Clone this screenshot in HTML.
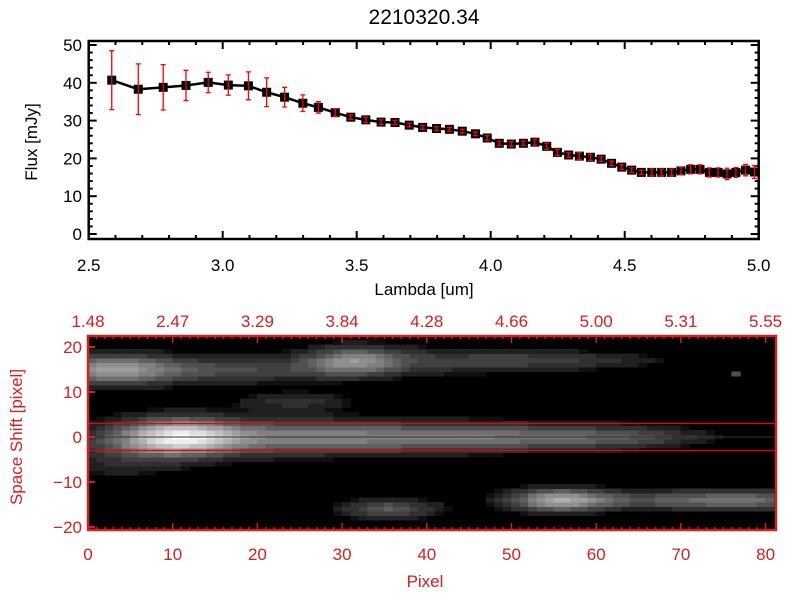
<!DOCTYPE html>
<html><head><meta charset="utf-8"><style>
body{margin:0;background:#fff}
svg{display:block;font-family:"Liberation Sans",sans-serif}
</style></head><body>
<svg id="s" width="800" height="600" xmlns="http://www.w3.org/2000/svg">
<rect width="800" height="600" fill="#fff"/>
<text x="424" y="24" font-size="21" text-anchor="middle">2210320.34</text>
<g id="topG"></g>
<g id="botG"></g>
<text x="424" y="295" font-size="17" text-anchor="middle">Lambda [um]</text>
<text transform="translate(37,142) rotate(-90)" font-size="17" text-anchor="middle">Flux [mJy]</text>
<text x="425" y="587" font-size="17" fill="#d42020" text-anchor="middle">Pixel</text>
<text transform="translate(22,437) rotate(-90)" font-size="17" fill="#d42020" text-anchor="middle">Space Shift [pixel]</text>
</svg>
<script>
const lambda=[2.586,2.685,2.778,2.863,2.946,3.021,3.096,3.164,3.231,3.299,3.357,3.420,3.478,3.534,3.591,3.643,3.696,3.746,3.798,3.846,3.894,3.943,3.987,4.032,4.077,4.122,4.165,4.209,4.249,4.291,4.331,4.372,4.412,4.451,4.489,4.526,4.562,4.601,4.638,4.675,4.710,4.746,4.781,4.816,4.848,4.882,4.915,4.951,4.984];
const flux=[40.7,38.3,38.8,39.3,40.1,39.4,39.2,37.5,36.2,34.6,33.5,32.1,30.9,30.2,29.6,29.5,28.8,28.2,27.9,27.7,27.2,26.5,25.4,24.0,23.8,24.0,24.3,23.2,21.6,20.9,20.6,20.3,19.8,18.7,17.7,16.9,16.3,16.3,16.3,16.3,16.7,17.1,17.1,16.3,16.3,15.9,16.3,16.9,16.4];
const fluxErr=[7.8,6.7,6.0,4.0,2.7,2.7,3.7,3.8,2.6,2.2,1.5,1.0,0.6,0.7,0.6,0.6,0.5,0.5,0.5,0.5,0.5,0.5,0.6,0.6,0.6,0.6,0.8,0.8,0.8,0.6,0.9,0.8,0.6,0.6,0.6,0.6,0.6,0.9,0.9,0.9,1.0,1.2,1.2,1.2,1.2,1.5,1.3,1.5,1.7];
const xTicks=[2.5,3.0,3.5,4.0,4.5,5.0];
const xTickLabels=["2.5","3.0","3.5","4.0","4.5","5.0"];
const yTicks=[0,10,20,30,40,50];
const topLabels=["1.48","2.47","3.29","3.84","4.28","4.66","5.00","5.31","5.55"];
const pixTicks=[0,10,20,30,40,50,60,70,80];
const shiftTicks=[20,10,0,-10,-20];
// image features: pixel, row, amplitude, sigmaPixel, sigmaRow
const blobPix=[10,22,38,52,64,2,14,31,45,58,24,35,55,68,78,76,3];
const blobRow=[0,0,0,0,0,15,15,17,17,17,8,-16,-14,-14,-14,14,-4];
const blobAmp=[0.75,0.35,0.3,0.25,0.18,0.45,0.3,0.45,0.22,0.12,0.18,0.35,0.55,0.3,0.25,0.3,0.15];
const blobSx=[5,10,12,10,7,5,12,4,10,8,5,4,4,10,6,0.4,6];
const blobSy=[2.8,2.8,2.3,2,1.6,2.5,2,2.2,2,1.2,1.5,1.5,1.8,1.5,1.5,0.4,4];

const NS="http://www.w3.org/2000/svg";
function mk(p,t,a){const e=document.createElementNS(NS,t);for(const k in a)e.setAttribute(k,a[k]);p.appendChild(e);return e;}
const topG=document.getElementById('topG'),botG=document.getElementById('botG');
const X0=88.7,X1=758.7,YT=41,YB=239;
const xs=v=>X0+(v-2.5)/2.5*(X1-X0);
const ys=v=>234-v*3.78;
for(let v=2.5;v<=5.0001;v+=0.1){const x=xs(v);const maj=Math.abs(v*2-Math.round(v*2))<1e-6;const L=maj?8:4;
 mk(topG,'line',{x1:x,x2:x,y1:YB,y2:YB-L,stroke:'#000','stroke-width':2});mk(topG,'line',{x1:x,x2:x,y1:YT,y2:YT+L,stroke:'#000','stroke-width':2});}
for(let v=0;v<=50;v+=2){const y=ys(v);const L=v%10==0?8:4;
 mk(topG,'line',{x1:X0,x2:X0+L,y1:y,y2:y,stroke:'#000','stroke-width':2});mk(topG,'line',{x1:X1,x2:X1-L,y1:y,y2:y,stroke:'#000','stroke-width':2});}
mk(topG,'rect',{x:X0,y:YT,width:X1-X0,height:YB-YT,fill:'none',stroke:'#000','stroke-width':2.5});
xTicks.forEach((v,i)=>{const t=mk(topG,'text',{x:xs(v),y:271,'font-size':17,'text-anchor':'middle'});t.textContent=xTickLabels[i];
 
 });
yTicks.forEach(v=>{const t=mk(topG,'text',{x:82,y:ys(v)+6,'font-size':17,'text-anchor':'end'});t.textContent=v;
 
 });
let d='';lambda.forEach((l,i)=>{d+=(i?'L':'M')+xs(l)+' '+ys(flux[i]);});
const ln=mk(topG,'path',{d:d,fill:'none',stroke:'#000','stroke-width':2.5});


lambda.forEach((l,i)=>{const x=xs(l),y=ys(flux[i]);
 const r=mk(topG,'rect',{x:x-4.5,y:y-4.5,width:9,height:9,fill:'#000'});
 
 
 const y1=ys(flux[i]+fluxErr[i]),y2=ys(flux[i]-fluxErr[i]);
 const g=mk(topG,'path',{d:`M${x} ${y1}V${y2}M${x-2.5} ${y1}h5M${x-2.5} ${y2}h5`,stroke:'#f00','stroke-width':1.3,fill:'none'});
 
 });
const BX0=88,BX1=776,BYT=336,BYB=530;
const px=p=>88+p*8.47;
const ry=r=>437-r*4.5;
mk(botG,'rect',{x:BX0,y:BYT,width:BX1-BX0,height:BYB-BYT,fill:'#000'});
for(let c=0;c<81;c++)for(let r=-21;r<=21;r++){
 let v=0;for(let k=0;k<blobPix.length;k++){const dx=(c-blobPix[k])/blobSx[k],dy=(r-blobRow[k])/blobSy[k];v+=blobAmp[k]*Math.exp(-0.5*(dx*dx+dy*dy));}
 if(v<0.08)continue;v=Math.min(1,v);const g=Math.round(Math.round(v*16)/16*255);
 mk(botG,'rect',{x:px(c)-0.3,y:ry(r)-2.5,width:9.2,height:5,fill:`rgb(${g},${g},${g})`});}
mk(botG,'line',{x1:BX0,x2:BX1,y1:ry(0),y2:ry(0),stroke:'#333','stroke-width':1});
mk(botG,'line',{x1:BX0,x2:BX1,y1:ry(3),y2:ry(3),stroke:'#e00','stroke-width':1.3});
mk(botG,'line',{x1:BX0,x2:BX1,y1:ry(-3),y2:ry(-3),stroke:'#e00','stroke-width':1.3});
for(let p=0;p<=80;p++){const x=px(p),L=p%10==0?7:3;
 mk(botG,'line',{x1:x,x2:x,y1:BYB,y2:BYB-L,stroke:'#d42020','stroke-width':1.5});mk(botG,'line',{x1:x,x2:x,y1:BYT,y2:BYT+L,stroke:'#d42020','stroke-width':1.5});}
shiftTicks.forEach(v=>{mk(botG,'line',{x1:BX0,x2:BX0+7,y1:ry(v),y2:ry(v),stroke:'#d42020','stroke-width':2});});
mk(botG,'rect',{x:BX0,y:BYT,width:BX1-BX0,height:BYB-BYT,fill:'none',stroke:'#d42020','stroke-width':2.5});
pixTicks.forEach((v,i)=>{const t=mk(botG,'text',{x:px(v),y:560,'font-size':17,fill:'#d42020','text-anchor':'middle'});t.textContent=v;
 
 
 const u=mk(botG,'text',{x:px(v),y:327,'font-size':17,fill:'#d42020','text-anchor':'middle'});u.textContent=topLabels[i];
 
 });
shiftTicks.forEach(v=>{const t=mk(botG,'text',{x:82,y:ry(v)+6,'font-size':17,fill:'#d42020','text-anchor':'end'});t.textContent=v==0?'0':(v<0?'\u2212'+(-v):v);
 
 });
</script>
</body></html>
